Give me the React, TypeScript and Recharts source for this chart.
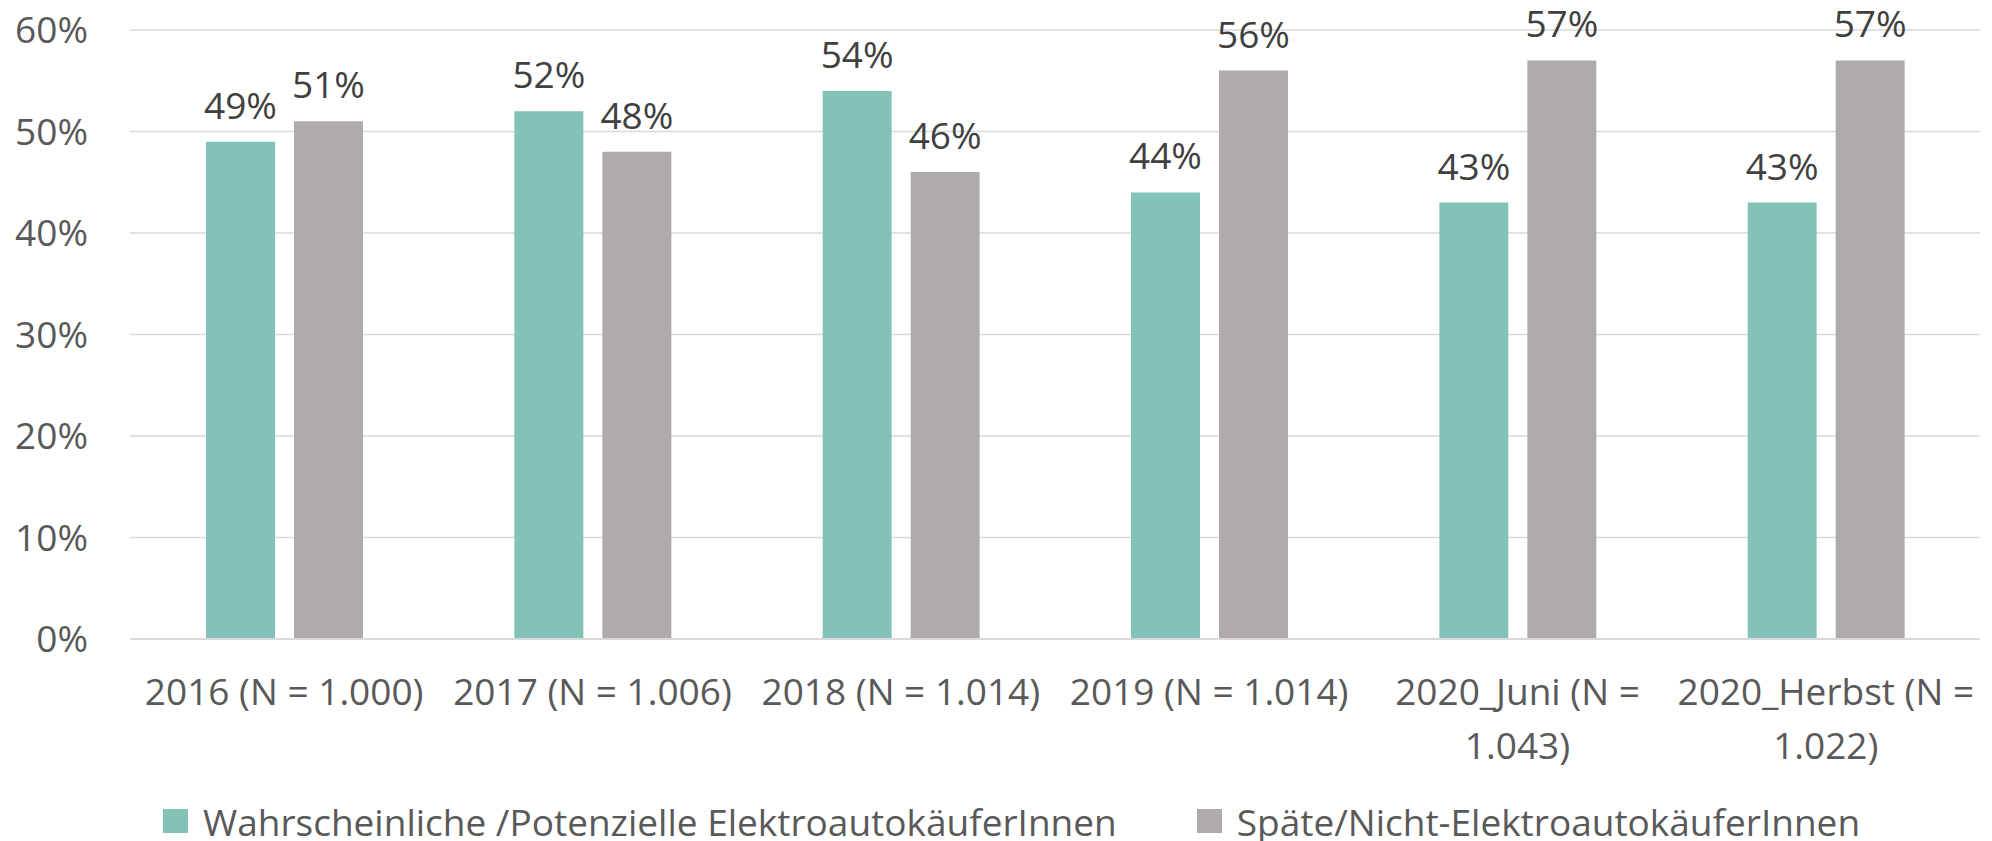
import { BarChart, Bar, XAxis, YAxis, CartesianGrid, Legend, LabelList } from "recharts";

const categories = [
  "2016 (N = 1.000)",
  "2017 (N = 1.006)",
  "2018 (N = 1.014)",
  "2019 (N = 1.014)",
  "2020_Juni (N = 1.043)",
  "2020_Herbst (N = 1.022)",
];
const potenzielle = [49, 52, 54, 44, 43, 43];
const spaete = [51, 48, 46, 56, 57, 57];
const yTicks = [0, 10, 20, 30, 40, 50, 60];

const SERIES = [
  { key: "potenzielle", name: "Wahrscheinliche /Potenzielle ElektroautokäuferInnen", color: "#83c2b6" },
  { key: "spaete", name: "Späte/Nicht-ElektroautokäuferInnen", color: "#afabab" },
];

const data = categories.map((c, i) => ({ cat: c, potenzielle: potenzielle[i], spaete: spaete[i] }));

const FONT = "'Open Sans', sans-serif";
const pct = (v: number) => `${v}%`;

// long labels wrap before the number, like the original
function splitLabel(label: string): string[] {
  if (label.length <= 18) return [label];
  const idx = label.lastIndexOf(" ");
  return [label.slice(0, idx), label.slice(idx + 1)];
}

function CategoryTick(props: any) {
  const { x, y, payload } = props;
  const lines = splitLabel(payload.value);
  return (
    <g>
      {lines.map((l, i) => (
        <text key={i} x={x} y={y + 66 + i * 54} textAnchor="middle" fill="#595959" fontSize={37} fontFamily={FONT}>
          {l}
        </text>
      ))}
    </g>
  );
}

function LegendContent() {
  return (
    <div style={{ height: 40, display: "flex", alignItems: "center", paddingLeft: 163, fontFamily: FONT, fontSize: 37, color: "#595959" }}>
      {SERIES.map((s, i) => (
        <div key={s.key} style={{ display: "flex", alignItems: "center", marginRight: i === 0 ? 80 : 0, whiteSpace: "nowrap" }}>
          <span style={{ display: "inline-block", width: 25, height: 24, background: s.color, marginRight: 15 }} />
          <span>{s.name}</span>
        </div>
      ))}
    </div>
  );
}

export default function App() {
  return (
    <div style={{ position: "absolute", left: 0, top: 0, background: "#fff" }}>
      <BarChart
        width={1992}
        height={841}
        data={data}
        margin={{ top: 30, right: 12, left: 0, bottom: 0 }}
        barSize={69}
        barGap={19}
        style={{ fontFamily: FONT }}
      >
        <CartesianGrid vertical={false} stroke="#d9d9d9" strokeWidth={1.5} />
        <XAxis
          dataKey="cat"
          height={162}
          interval={0}
          tickLine={false}
          tickSize={0}
          tickMargin={0}
          axisLine={{ stroke: "#d9d9d9", strokeWidth: 2 }}
          tick={<CategoryTick />}
        />
        <YAxis
          width={130}
          domain={[0, 60]}
          ticks={yTicks}
          tickFormatter={pct}
          axisLine={false}
          tickLine={false}
          tickSize={0}
          tickMargin={42}
          tick={{ fill: "#595959", fontSize: 37, fontFamily: FONT }}
        />
        <Legend verticalAlign="bottom" content={<LegendContent />} />
        {SERIES.map((s) => (
          <Bar key={s.key} dataKey={s.key} name={s.name} fill={s.color} isAnimationActive={false}>
            <LabelList dataKey={s.key} position="top" offset={23} formatter={(v: any) => pct(v)} fill="#404040" fontSize={37} fontFamily={FONT} />
          </Bar>
        ))}
      </BarChart>
    </div>
  );
}
